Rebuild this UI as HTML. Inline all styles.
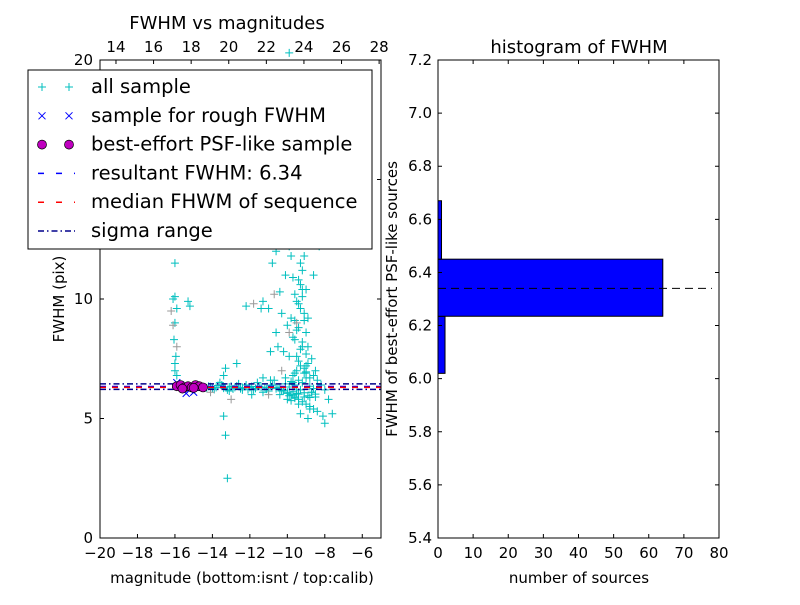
<!DOCTYPE html>
<html><head><meta charset="utf-8"><style>
body{margin:0;background:#fff;font-family:"Liberation Sans","DejaVu Sans",sans-serif;}
svg text{font-family:"DejaVu Sans","Liberation Sans",sans-serif;}
</style></head><body>
<svg id="c" width="800" height="600" viewBox="0 0 800 600"></svg>
<script>
// ---- left scatter data ----
const allMag=[-16,-16,-16.1,-15.9,-16,-16.05,-15.95,-16,-16,-15.9,-15.3,-15.2,-13.4,-13.3,-13.2,-12.1,-12.2,-11.4,-11.3,-11.0,-10.8,-10.6,-10.5,-10.4,-10.3,-10.2,-10.1,-10.0,-10.0,-9.9,-9.9,-9.8,-9.8,-9.7,-9.7,-9.6,-9.6,-9.5,-9.5,-9.4,-9.4,-9.3,-9.3,-9.2,-9.2,-9.1,-9.1,-9.0,-9.0,-8.9,-8.9,-8.8,-8.7,-8.6,-8.5,-8.4,-8.2,-8.0,-7.8,-7.6,-10.6,-10.2,-9.8,-9.5,-9.2,-8.9,-8.6,-8.3,-9.9,-9.6,-9.3,-9.0,-10.0,-9.4,-8.8,-14.5,-14.2,-14.0,-13.8,-13.5,-13.2,-13.0,-12.8,-12.5,-12.2,-12.0,-11.8,-11.5,-11.2,-11.0,-10.8,-10.5,-10.3,-10.0,-9.8,-9.6,-9.4,-9.2,-9.0,-8.8,-8.6,-8.4,-13.6,-12.6,-11.6,-10.7,-9.7,-8.7,-13.1,-12.4,-11.3,-10.4,-9.5,-8.5,-9.3,-8.9,-8.1,-8.0,-10.1,-9.7,-9.1,-9.0,-13.4,-13.3,-12.7,-11.9,-11.3,-9.6,-10.9,-10.6,-10.9,-9.9,-9.6,-9.8,
-14.3,-14.1,-13.9,-13.7,-13.4,-13.1,-12.9,-12.7,-12.4,-12.1,-11.9,-11.7,-11.4,-11.1,-10.9,-10.6,-10.4,-10.2,-9.9,-9.7,-9.5,-9.3,-9.1,-8.9,-8.7,-8.5,-10.1,-9.8,-9.6,-9.4,-9.2,-9.0,-8.8,-8.6,-10.3,-10.0,-9.7,-9.4,-9.1,-8.8,-9.5,-9.3,-9.2,-9.0,-8.9,-9.6,-9.4,-9.1,-9.2,-9.3,-9.4,-9.2,-9.0,-9.1,-9.5,-9.3,-9.6,-9.0];
const allFwhm=[11.5,10.1,10.0,9.6,9.0,8.3,7.6,7.3,7.0,6.8,9.9,9.7,6.8,4.3,2.5,12.5,9.7,9.6,9.9,9.6,11.5,12.0,8.0,10.3,9.4,7.8,11.0,13.0,8.9,12.2,7.6,11.8,9.2,10.9,8.4,12.4,10.2,9.9,8.7,10.8,7.4,11.5,9.6,10.4,8.0,9.1,7.1,8.6,6.9,9.2,7.3,6.7,7.5,6.8,7.0,6.6,6.4,6.2,5.8,5.2,16.5,14.2,18.5,15.8,13.5,12.8,11.0,12.2,20.3,17.2,14.8,13.0,5.8,5.6,5.4,6.3,6.35,6.25,6.3,6.4,6.2,6.35,6.3,6.25,6.4,6.3,6.2,6.35,6.3,6.15,6.4,6.3,6.2,6.1,6.0,5.9,5.8,5.7,5.6,5.5,5.4,5.3,6.5,6.45,6.5,6.6,6.5,6.1,6.15,6.2,6.1,6.0,6.2,5.9,5.2,5.0,5.1,4.8,6.7,6.8,6.9,7.2,5.1,7.1,7.3,6.0,6.7,8.3,7.8,8.6,6.6,5.95,5.85,5.75,
6.28,6.33,6.22,6.38,6.27,6.32,6.24,6.36,6.29,6.21,6.34,6.26,6.31,6.23,6.37,6.25,6.3,6.18,6.32,6.12,6.05,6.2,6.08,5.95,6.1,6.02,6.45,6.55,6.4,6.6,6.5,6.7,6.35,6.25,6.15,6.05,5.98,6.02,5.9,5.88,7.6,7.9,8.2,7.7,8.0,9.1,8.8,9.4,10.1,10.6,9.8,11.2,10.4,11.8,7.0,7.2,6.9,6.95];
const grayMag=[-16.2,-16.1,-15.9,-13.0,-11.8,-10.7,-10.0,-9.5,-9.9,-11.0,-10.3,-14.1];
const grayFwhm=[9.5,8.9,8.0,5.8,9.8,10.2,12.5,9.0,8.6,6.0,7.0,6.1];
const roughMag=[-15.9,-15.7,-15.5,-15.2,-15.0,-14.8,-14.6,-15.4];
const roughFwhm=[6.5,6.4,6.3,6.2,6.1,6.35,6.3,6.05];
const bestMag=[-15.9,-15.7,-15.5,-15.3,-15.1,-14.9,-14.7,-14.5,-15.6,-15.0];
const bestFwhm=[6.35,6.4,6.3,6.35,6.3,6.4,6.35,6.3,6.25,6.28];
const resultFwhm=6.34, medianFwhm=6.30, sigmaLo=6.22, sigmaHi=6.45;
const xTicks=[-20,-18,-16,-14,-12,-10,-8,-6];
const xTickLabels=["\u221220","\u221218","\u221216","\u221214","\u221212","\u221210","\u22128","\u22126"];
const topTicks=[14,16,18,20,22,24,26,28];
const yTicks=[0,5,10,15,20];
// ---- histogram data ----
const binLo=[6.02,6.235,6.45];
const binHi=[6.235,6.45,6.67];
const binCount=[2,64,1];
const hYTicks=[5.4,5.6,5.8,6.0,6.2,6.4,6.6,6.8,7.0,7.2];
const hXTicks=[0,10,20,30,40,50,60,70,80];

const NS="http://www.w3.org/2000/svg";
const svg=document.getElementById('c');
function el(t,a,p){const e=document.createElementNS(NS,t);for(const k in a)e.setAttribute(k,a[k]);(p||svg).appendChild(e);return e;}
function txt(s,x,y,sz,anchor,rot){const e=el('text',{x:x,y:y,'font-size':sz||15,'text-anchor':anchor||'middle',fill:'#000'});if(rot)e.setAttribute('transform','rotate(-90 '+x+' '+y+')');e.textContent=s;return e;}

// left axes
const L={x0:100,x1:381,y0:538,y1:60};
const lx=v=>L.x0+(v+20)/15*(L.x1-L.x0);
const ly=v=>L.y0-v/20*(L.y0-L.y1);
const tx=v=>L.x0+(v-13.15)/(28.1-13.15)*(L.x1-L.x0);
const g1=el('g',{});


function hline(v,stroke,dash,name){const l=el('line',{x1:L.x0,x2:L.x1,y1:ly(v),y2:ly(v),stroke:stroke,'stroke-width':1.5,'stroke-dasharray':dash},g1);}
function plus(x,y,c,name){const p=el('path',{d:`M${x-4},${y}h8M${x},${y-4}v8`,stroke:c,'stroke-width':1,fill:'none'},g1);}
for(let i=0;i<allMag.length;i++){plus(lx(allMag[i]),ly(allFwhm[i]),'#00bfbf','all-sample-point');}
for(let i=0;i<grayMag.length;i++){plus(lx(grayMag[i]),ly(grayFwhm[i]),'#999','rejected-point');}
hline(sigmaLo,'#00008b','6,3,1.5,3','sigma-low-line');
hline(sigmaHi,'#00008b','6,3,1.5,3','sigma-high-line');
hline(resultFwhm,'#0000ff','6,6','resultant-fwhm-line');
hline(medianFwhm,'#ff0000','6,6','median-fwhm-line');
for(let i=0;i<roughMag.length;i++){const x=lx(roughMag[i]),y=ly(roughFwhm[i]);const p=el('path',{d:`M${x-3.5},${y-3.5}l7,7M${x-3.5},${y+3.5}l7,-7`,stroke:'#0000ff','stroke-width':1},g1);}
for(let i=0;i<bestMag.length;i++){const c=el('circle',{cx:lx(bestMag[i]),cy:ly(bestFwhm[i]),r:4.5,fill:'#bf00bf',stroke:'#000','stroke-width':0.7},g1);}
el('rect',{x:L.x0,y:L.y1,width:L.x1-L.x0,height:L.y0-L.y1,fill:'none',stroke:'#000','stroke-width':1});
xTicks.forEach((v,i)=>{const x=lx(v);el('path',{d:`M${x},${L.y0}v-4`,stroke:'#000'});const t=txt(xTickLabels[i],x,L.y0+20);});
topTicks.forEach(v=>{const x=tx(v);el('path',{d:`M${x},${L.y1}v4`,stroke:'#000'});const t=txt(v,x,L.y1-8);});
yTicks.forEach(v=>{const y=ly(v);el('path',{d:`M${L.x0},${y}h4M${L.x1},${y}h-4`,stroke:'#000'});const t=txt(v,L.x0-7,y+5,15,'end');});
let t;
t=txt('magnitude (bottom:isnt / top:calib)',242,583,15);
t=txt('FWHM (pix)',64,299,15,'middle',true);
t=txt('FWHM vs magnitudes',227,29,18);
// legend
const lg=el('g',{});


el('rect',{x:28,y:70,width:344,height:179,fill:'#fff',stroke:'#000','stroke-width':1},lg);
const labels=['all sample','sample for rough FWHM','best-effort PSF-like sample','resultant FWHM: 6.34','median FHWM of sequence','sigma range'];
labels.forEach((s,i)=>{const y=87+i*28.8;const a=42,b=69;
 if(i==0){[a,b].forEach(x=>el('path',{d:`M${x-4},${y}h8M${x},${y-4}v8`,stroke:'#00bfbf'},lg));}
 else if(i==1){[a,b].forEach(x=>el('path',{d:`M${x-3.5},${y-3.5}l7,7M${x-3.5},${y+3.5}l7,-7`,stroke:'#0000ff'},lg));}
 else if(i==2){[a,b].forEach(x=>el('circle',{cx:x,cy:y,r:4.5,fill:'#bf00bf',stroke:'#000','stroke-width':0.7},lg));}
 else if(i==3){el('line',{x1:38,x2:75,y1:y,y2:y,stroke:'#0000ff','stroke-width':1.5,'stroke-dasharray':'6,12'},lg);}
 else if(i==4){el('line',{x1:38,x2:75,y1:y,y2:y,stroke:'#ff0000','stroke-width':1.5,'stroke-dasharray':'6,12'},lg);}
 else {el('line',{x1:38,x2:75,y1:y,y2:y,stroke:'#00008b','stroke-width':1.5,'stroke-dasharray':'6,3,1.5,3'},lg);}
 const e=el('text',{x:91,y:y+6,'font-size':19.5,fill:'#000'},lg);e.textContent=s;});

// histogram
const R={x0:438,x1:719,y0:538,y1:60};
const hx=v=>R.x0+v/80*(R.x1-R.x0);
const hy=v=>R.y0-(v-5.4)/1.8*(R.y0-R.y1);
for(let i=0;i<binLo.length;i++){const r=el('rect',{x:hx(0),y:hy(binHi[i]),width:hx(binCount[i])-hx(0),height:hy(binLo[i])-hy(binHi[i]),fill:'#0000ff',stroke:'#000','stroke-width':1});}
const ml=el('line',{x1:hx(0),x2:hx(78),y1:hy(resultFwhm),y2:hy(resultFwhm),stroke:'#000','stroke-width':1,'stroke-dasharray':'8,5'});


el('rect',{x:R.x0,y:R.y1,width:R.x1-R.x0,height:R.y0-R.y1,fill:'none',stroke:'#000','stroke-width':1});
hXTicks.forEach(v=>{const x=hx(v);el('path',{d:`M${x},${R.y0}v-4M${x},${R.y1}v4`,stroke:'#000'});const t=txt(v,x,R.y0+20);});
hYTicks.forEach(v=>{const y=hy(v);el('path',{d:`M${R.x0},${y}h4M${R.x1},${y}h-4`,stroke:'#000'});const t=txt(v.toFixed(1),R.x0-6,y+5,15,'end');});
t=txt('number of sources',579,583,15);
t=txt('FWHM of best-effort PSF-like sources',397,299,15,'middle',true);
t=txt('histogram of FWHM',579,53,18);
</script>
</body></html>
